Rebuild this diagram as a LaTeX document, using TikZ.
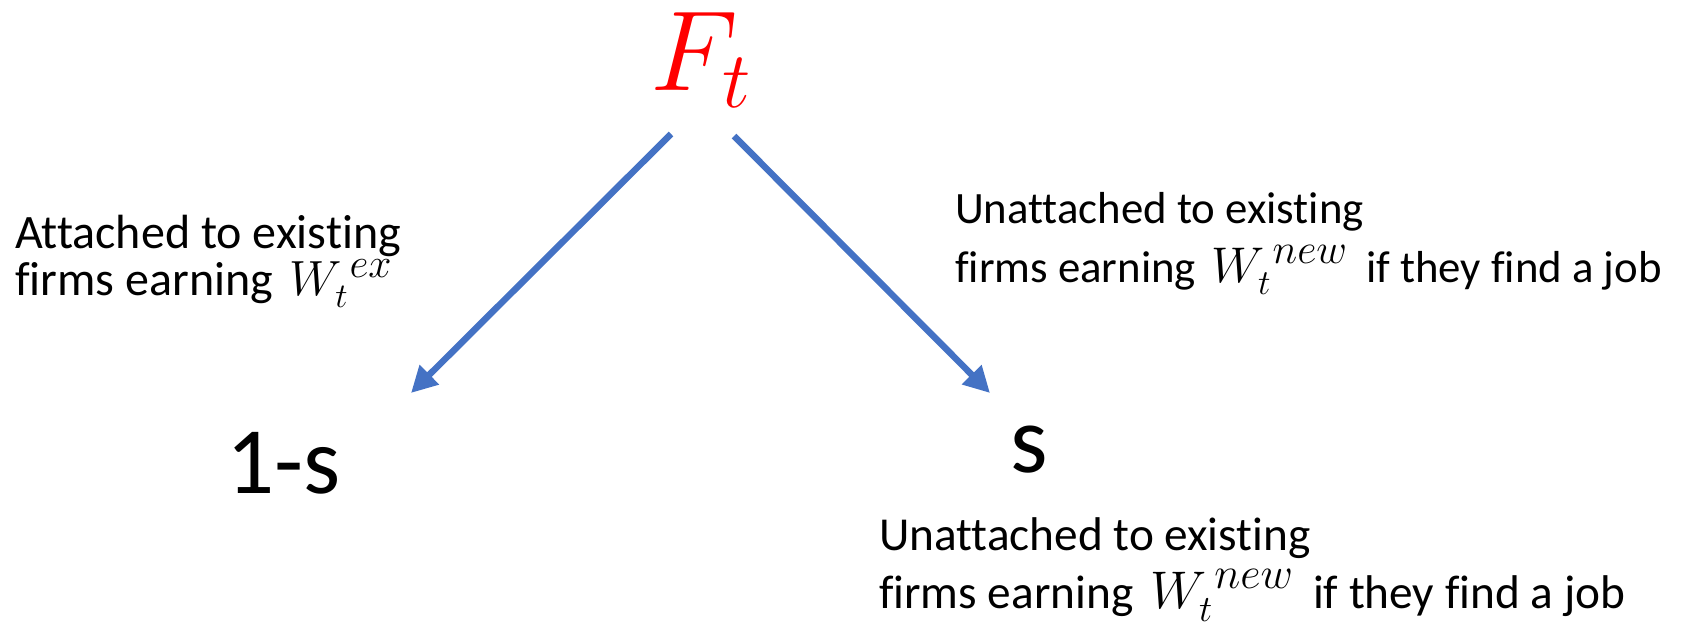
\documentclass[tikz,border=0pt]{standalone}
\usepackage{fix-cm}
\usepackage{fontspec}
\setmainfont{Carlito}[Ligatures=NoCommon]
\usetikzlibrary{arrows.meta}
\definecolor{branchblue}{HTML}{4472C4}
% wage with a wider superscript, closer to the original's math font
\newcommand{\wage}[2][1.12]{\scalebox{#1}{$\mkern2mu W_t^{\mkern4mu\scalebox{1.2}{$\scriptstyle #2$}}\mkern3mu$}}

\begin{document}
\begin{tikzpicture}[x=1pt,y=-1pt,
    branch/.style={draw=branchblue, line width=6.5pt, -{Triangle[length=26pt,width=26pt]}},
    note/.style={align=left, inner sep=0pt, anchor=base west}]
    \useasboundingbox (0,0) rectangle (1692,624);

    \node[red, inner sep=0pt, anchor=base west, font=\fontsize{114}{114}\selectfont] (F) at (650,90) {$F_t$};
    \node[inner sep=0pt, anchor=base west, font=\fontsize{95}{95}\selectfont] (stay) at (226,493) {1-s};
    \node[inner sep=0pt, anchor=base west, font=\fontsize{96}{96}\selectfont] (sep) at (1010,472) {s};

    \node[note, font=\fontsize{48}{47}\selectfont] (exnote) at (15,295) {Attached to existing\\firms earning \wage[1.03]{ex}};
    \node[note, font=\fontsize{44.8}{59}\selectfont] (newnote) at (955,282) {Unattached to existing\\firms earning \wage{new} if they find a job};
    \node[note, font=\fontsize{47.3}{58}\selectfont] (sepnote) at (879,608) {Unattached to existing\\firms earning \wage{new} if they find a job};

    \coordinate (l0) at (671,134);
    \coordinate (l1) at (411,393);
    \coordinate (r0) at (734,136);
    \coordinate (r1) at (990,393);
    \draw[branch] (l0) -- (l1);
    \draw[branch] (r0) -- (r1);
\end{tikzpicture}
\end{document}
